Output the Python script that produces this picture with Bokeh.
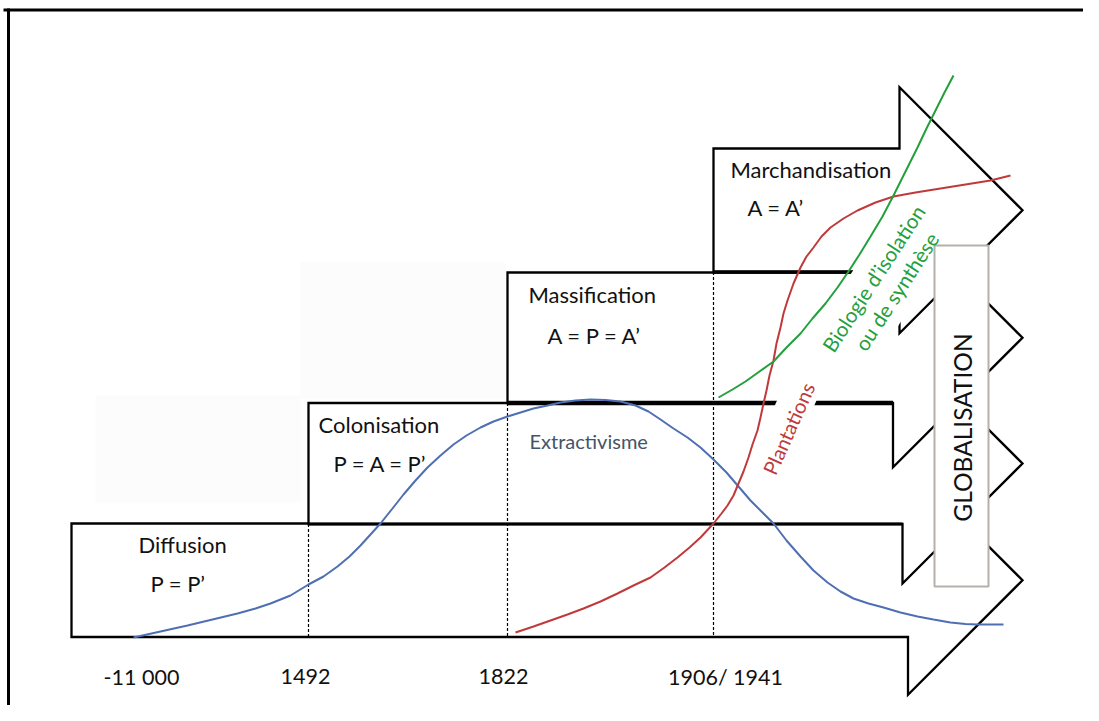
import math
from bokeh.plotting import figure
from bokeh.models import Range1d
from bokeh.embed import file_html
from bokeh.resources import INLINE
from bokeh.core.properties import value

FONT = "Lato"

# ---- stages (stacked arrows), from bottom to top ----
stage_names = ["Diffusion", "Colonisation", "Massification", "Marchandisation"]
stage_formulas = ["P = P’", "P = A = P’", "A = P = A’", "A = A’"]
stage_left = [71, 308, 507, 713]
stage_top = [523, 402.5, 272, 148]
stage_bottom = [636.5, 523.5, 402.5, 271.5]
stage_back = [907.5, 902, 892.5, 899]
stage_edge_width = [2.5, 3, 4.5, 3.5]
arrow_tip = 1022
name_x = [138, 318, 528, 730]
name_y = [544, 424, 294, 169]
formula_x = [150, 333, 547, 747]
formula_y = [583, 463, 335, 207]

# ---- dates under the timeline ----
date_labels = ["-11 000", "1492", "1822", "1906/ 1941"]
date_x = [141, 305, 503, 725]
date_y = 676

# ---- curves ----
extract_x = [133, 160, 187, 212, 237, 255, 270, 290, 308, 323, 337, 349, 360, 370, 380,
             392, 403, 415, 427, 440, 453, 466, 480, 493, 507, 520, 533, 547, 560, 575,
             590, 605, 620, 635, 648, 660, 673, 687, 700, 713, 726, 738, 750, 762, 773,
             786, 800, 813, 827, 840, 853, 868, 883, 900, 917, 933, 950, 965, 977, 1003]
extract_y = [637, 631, 625, 619, 613, 608, 603, 595, 584, 576, 566, 556, 545, 534, 523,
             508, 494, 480, 467, 455, 444, 435, 427, 421, 416, 412, 408, 405, 402, 400,
             399, 399.5, 401, 405, 411, 419, 428, 437, 447, 459, 472, 486, 500, 512, 523,
             540, 556, 570, 582, 591, 598, 603, 607, 612, 616, 619, 622, 623.5, 624, 624]

plant_x = [515, 533, 550, 567, 583, 600, 617, 633, 650, 664, 677, 689, 700, 713, 721,
           727, 733, 738, 743, 748, 752, 757, 760, 763, 766, 769, 773, 776, 780, 783,
           787, 793, 800, 806, 813, 821, 830, 843, 857, 875, 893, 915, 940, 965, 990, 1010]
plant_y = [632, 626, 620, 614, 608, 601, 593, 585, 577, 567, 557, 547, 537, 523, 513,
           505, 495, 483, 471, 457, 444, 430, 417, 403, 390, 375, 360, 343, 327, 313,
           300, 283, 267, 256, 247, 236, 227, 218, 210, 202, 196, 192, 188, 184, 180, 175]

bio_x = [718, 732, 745, 759, 773, 786, 800, 812, 825, 837, 848, 859, 870, 882, 893,
         905, 917, 926, 935, 944, 953]
bio_y = [397, 389, 381, 371, 361, 347, 333, 318, 303, 287, 271, 254, 236, 216, 195,
         171, 147, 128, 110, 92, 75]

BLUE = "#4f6fb3"
RED = "#c0393b"
GREEN = "#23a03c"
LABEL_BLUE = "#44546a"
INK = "#111111"

W, H = 1083, 705
p = figure(width=W, height=H, output_backend="svg", toolbar_location=None,
           x_range=Range1d(0, W), y_range=Range1d(H, 0),
           x_axis_type=None, y_axis_type=None, min_border=0)
p.outline_line_color = None
p.background_fill_color = "white"

# faint background patches
p.quad(left=[95, 300], right=[300, 505], top=[395, 262], bottom=[502, 398],
       fill_color="#fcfcfc", line_color=None)

# frame lines
p.segment(x0=[3, 8], y0=[9.5, 8], x1=[W, 8], y1=[9.5, H], line_color="black", line_width=3)

# arrows
xs, ys = [], []
for l, t, b, bk in zip(stage_left, stage_top, stage_bottom, stage_back):
    cy = (t + b) / 2
    half = arrow_tip - bk
    xs.append([l, bk, bk, arrow_tip, bk, bk, l])
    ys.append([t, t, cy - half, cy, cy + half, b, b])
for i in range(4):
    p.patch(xs[i], ys[i], fill_color="white", line_color="black", line_width=2.3,
            line_join="miter")
    # heavier bottom edge where the step sits on the previous stage
    if i > 0:
        p.line([stage_left[i], stage_back[i]], [stage_bottom[i], stage_bottom[i]],
               line_color="black", line_width=stage_edge_width[i])

# dashed date lines
p.segment(x0=stage_left[1:], y0=stage_bottom[1:], x1=stage_left[1:], y1=[stage_bottom[0]] * 3,
          line_color="black", line_width=1.2, line_dash="3 2")

# white backgrounds of rotated labels
p.rect(x=[782, 884], y=[432, 284], width=[112, 190], height=[36, 68],
       angle=[math.radians(66), math.radians(57)], fill_color="white", line_color=None)

# curves
p.line(extract_x, extract_y, line_color=BLUE, line_width=2)
p.line(plant_x, plant_y, line_color=RED, line_width=2)
p.line(bio_x, bio_y, line_color=GREEN, line_width=2)

# GLOBALISATION box
p.quad(left=[934], right=[988], top=[245], bottom=[586], fill_color="white",
       line_color="#b5b0ab", line_width=2)
p.text(x=[962], y=[427], text=["GLOBALISATION"], angle=math.pi / 2, text_align="center",
       text_baseline="middle", text_font=value(FONT), text_font_size="24.5px", text_color=INK)

# stage texts
p.text(x=name_x, y=name_y, text=stage_names, text_align="left", text_baseline="middle",
       text_font=value(FONT), text_font_size="22px", text_color=INK)
p.text(x=formula_x, y=formula_y, text=stage_formulas, text_align="left", text_baseline="middle",
       text_font=value(FONT), text_font_size="22px", text_color=INK)

p.text(x=[529], y=[440], text=["Extractivisme"], text_align="left", text_baseline="middle",
       text_font=value(FONT), text_font_size="20px", text_color=LABEL_BLUE)
p.text(x=[788], y=[428], text=["Plantations"], angle=math.radians(66), text_align="center",
       text_baseline="middle", text_font=value(FONT), text_font_size="20px", text_color=RED)
p.text(x=[873, 896], y=[278, 291], text=["Biologie d’isolation", "ou de synthèse"],
       angle=math.radians(57), text_align="center", text_baseline="middle",
       text_font=value(FONT), text_font_size="20.5px", text_color=GREEN)

# dates
p.text(x=date_x, y=[date_y] * 4, text=date_labels, text_align="center", text_baseline="middle",
       text_font=value(FONT), text_font_size="21.5px", text_color=INK)

open("out.html", "w").write(file_html(p, INLINE))
